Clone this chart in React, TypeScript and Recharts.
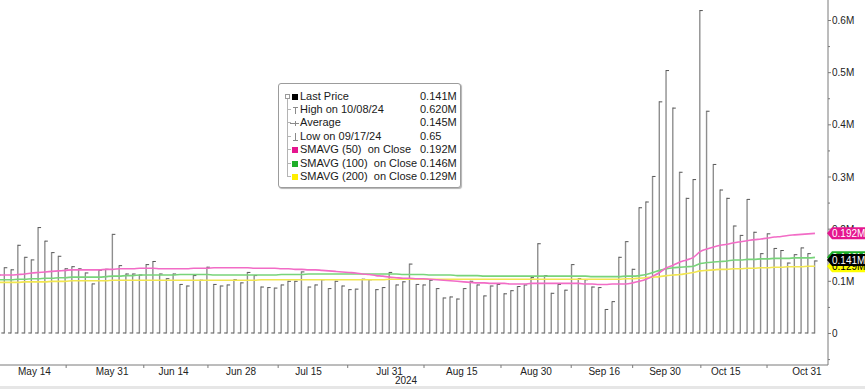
import React from 'react'
import { ComposedChart, Bar, Line, XAxis, YAxis, Label } from 'recharts'

// daily volume, in millions (first bar sits just off the left edge)
const volume = [
  0.113,
  0.127, 0.123, 0.170, 0.147, 0.142, 0.204, 0.178, 0.156, 0.149, 0.125,
  0.129, 0.125, 0.117, 0.096, 0.122, 0.124, 0.191, 0.131, 0.115, 0.115,
  0.113, 0.133, 0.139, 0.115, 0.106, 0.115, 0.095, 0.092, 0.112, 0.103,
  0.128, 0.095, 0.092, 0.094, 0.104, 0.098, 0.118, 0.112, 0.090, 0.089,
  0.088, 0.094, 0.101, 0.101, 0.119, 0.090, 0.094, 0.104, 0.087, 0.101,
  0.092, 0.085, 0.086, 0.105, 0.104, 0.085, 0.089, 0.118, 0.094, 0.100,
  0.134, 0.095, 0.094, 0.103, 0.087, 0.069, 0.071, 0.067, 0.087, 0.101,
  0.094, 0.073, 0.092, 0.095, 0.077, 0.083, 0.091, 0.094, 0.108, 0.173,
  0.112, 0.078, 0.095, 0.084, 0.133, 0.106, 0.104, 0.090, 0.089, 0.047,
  0.062, 0.147, 0.177, 0.124, 0.242, 0.253, 0.302, 0.445, 0.505, 0.433,
  0.310, 0.260, 0.296, 0.620, 0.427, 0.325, 0.276, 0.260, 0.207, 0.189,
  0.258, 0.195, 0.154, 0.192, 0.164, 0.160, 0.136, 0.152, 0.165, 0.154, 0.140,
]

const sma50 = [
  0.112,
  0.112, 0.112, 0.113, 0.114, 0.116, 0.117, 0.118, 0.119, 0.120, 0.121,
  0.122, 0.122, 0.122, 0.122, 0.122, 0.123, 0.123, 0.124, 0.124, 0.124,
  0.125, 0.125, 0.125, 0.124, 0.124, 0.124, 0.124, 0.124, 0.125, 0.125,
  0.125, 0.126, 0.126, 0.126, 0.126, 0.126, 0.126, 0.125, 0.125, 0.125,
  0.125, 0.124, 0.124, 0.123, 0.123, 0.122, 0.122, 0.121, 0.120, 0.119,
  0.118, 0.117, 0.116, 0.114, 0.113, 0.111, 0.110, 0.108, 0.107, 0.106,
  0.106, 0.105, 0.105, 0.104, 0.103, 0.102, 0.101, 0.100, 0.099, 0.098,
  0.097, 0.097, 0.096, 0.096, 0.096, 0.095, 0.095, 0.095, 0.096, 0.096,
  0.096, 0.096, 0.096, 0.096, 0.096, 0.096, 0.095, 0.095, 0.094, 0.094,
  0.095, 0.095, 0.095, 0.097, 0.100, 0.104, 0.110, 0.117, 0.126, 0.131,
  0.137, 0.141, 0.146, 0.157, 0.162, 0.166, 0.169, 0.171, 0.174, 0.176,
  0.178, 0.180, 0.181, 0.183, 0.185, 0.186, 0.188, 0.189, 0.190, 0.191, 0.192,
]

const sma100 = [
  0.103,
  0.103, 0.103, 0.104, 0.104, 0.105, 0.105, 0.106, 0.106, 0.107, 0.107,
  0.108, 0.108, 0.108, 0.108, 0.108, 0.109, 0.110, 0.110, 0.111, 0.111,
  0.112, 0.112, 0.112, 0.112, 0.112, 0.112, 0.113, 0.113, 0.113, 0.113,
  0.113, 0.112, 0.112, 0.112, 0.112, 0.112, 0.112, 0.112, 0.112, 0.112,
  0.112, 0.113, 0.113, 0.113, 0.113, 0.114, 0.114, 0.114, 0.114, 0.114,
  0.114, 0.114, 0.114, 0.114, 0.114, 0.114, 0.114, 0.114, 0.114, 0.113,
  0.113, 0.113, 0.113, 0.112, 0.112, 0.112, 0.112, 0.111, 0.111, 0.111,
  0.111, 0.110, 0.110, 0.110, 0.110, 0.110, 0.110, 0.110, 0.110, 0.110,
  0.110, 0.110, 0.110, 0.110, 0.110, 0.110, 0.110, 0.109, 0.109, 0.109,
  0.109, 0.109, 0.110, 0.110, 0.111, 0.113, 0.117, 0.121, 0.124, 0.126,
  0.127, 0.128, 0.129, 0.134, 0.136, 0.137, 0.138, 0.139, 0.141, 0.141,
  0.142, 0.142, 0.143, 0.143, 0.144, 0.144, 0.144, 0.145, 0.145, 0.145, 0.146,
]

const sma200 = [
  0.098,
  0.098, 0.098, 0.098, 0.099, 0.099, 0.099, 0.099, 0.100, 0.100, 0.100,
  0.101, 0.101, 0.101, 0.101, 0.101, 0.101, 0.102, 0.102, 0.102, 0.102,
  0.102, 0.102, 0.102, 0.102, 0.102, 0.102, 0.102, 0.102, 0.102, 0.102,
  0.102, 0.102, 0.102, 0.102, 0.102, 0.102, 0.102, 0.102, 0.103, 0.103,
  0.103, 0.103, 0.103, 0.103, 0.103, 0.103, 0.103, 0.103, 0.103, 0.103,
  0.103, 0.103, 0.103, 0.103, 0.103, 0.103, 0.103, 0.104, 0.104, 0.104,
  0.104, 0.104, 0.104, 0.104, 0.104, 0.104, 0.104, 0.104, 0.104, 0.104,
  0.104, 0.104, 0.104, 0.104, 0.104, 0.104, 0.104, 0.104, 0.104, 0.104,
  0.104, 0.104, 0.104, 0.104, 0.104, 0.104, 0.104, 0.104, 0.104, 0.104,
  0.104, 0.104, 0.105, 0.105, 0.106, 0.107, 0.108, 0.109, 0.111, 0.112,
  0.113, 0.115, 0.117, 0.120, 0.121, 0.122, 0.123, 0.123, 0.124, 0.124,
  0.125, 0.125, 0.126, 0.126, 0.127, 0.127, 0.128, 0.128, 0.128, 0.129, 0.129,
]

// date labels and where they fall along the bar index
const xLabels = ['May 14', 'May 31', 'Jun 14', 'Jun 28', 'Jul 15', 'Jul 31', 'Aug 15', 'Aug 30', 'Sep 16', 'Sep 30', 'Oct 15', 'Oct 31']
const xLabelPos = [5.4, 16.9, 26, 36, 46, 58, 68.7, 79.7, 89.8, 98.8, 107.8, 119.8]
const xSepPos = [10.1, 21.6, 31.1, 41.5, 51.8, 63.1, 74.5, 84.9, 94, 104.1, 113.9]

const yTicks = [-0.05, 0, 0.05, 0.1, 0.15, 0.2, 0.25, 0.3, 0.35, 0.4, 0.45, 0.5, 0.55, 0.6]

// last values shown as tags on the right axis (drawn in this order)
const lastValues = [0.146, 0.129, 0.141, 0.192]
const tagFill = ['#1fae2a', '#ffff00', '#000000', '#e5168f']
const tagInk = ['#ffffff', '#000000', '#ffffff', '#ffffff']

const legendLabels = ['Last Price', 'High on 10/08/24', 'Average', 'Low on 09/17/24', 'SMAVG (50)  on Close', 'SMAVG (100)  on Close', 'SMAVG (200)  on Close']
const legendValues = ['0.141M', '0.620M', '0.145M', '0.65', '0.192M', '0.146M', '0.129M']

const FONT = '"Liberation Sans", Arial, sans-serif'
const AXIS = '#7a7a7a'

const data = volume.map((v, i) => ({ i, v, s50: sma50[i], s100: sma100[i], s200: sma200[i] }))

function VolBar(props: any) {
  const { x, y, width, height } = props
  if (x == null || y == null || height == null) return null
  const cx = x + width / 2
  const bot = y + height
  return (
    <g>
      <line x1={cx} x2={cx} y1={y} y2={bot} stroke="#8e8e8e" strokeWidth={1.4} />
      <line x1={cx} x2={cx + 3} y1={y + 0.5} y2={y + 0.5} stroke="#555" strokeWidth={1} />
      <line x1={cx - 3} x2={cx} y1={bot - 0.5} y2={bot - 0.5} stroke="#555" strokeWidth={1} />
    </g>
  )
}

function XTick(props: any) {
  const { x, y, payload } = props
  const k = xLabelPos.indexOf(payload.value)
  if (k >= 0) {
    return (
      <text x={x} y={y + 10} textAnchor="middle" fontSize={10} fontFamily={FONT} fill="#222">
        {xLabels[k]}
      </text>
    )
  }
  return <line x1={x} x2={x} y1={y} y2={y + 3} stroke={AXIS} />
}

function YTick(props: any) {
  const { x, y, payload } = props
  const v = payload.value
  const t = lastValues.indexOf(v)
  if (t >= 0) {
    const h = 6
    return (
      <g>
        <path
          d={`M${x - 1},${y} L${x + 4},${y - h} L${x + 37},${y - h} L${x + 37},${y + h} L${x + 4},${y + h} Z`}
          fill={tagFill[t]}
        />
        <text x={x + 4} y={y + 3.7} fontSize={10} fontFamily={FONT} fill={tagInk[t]}>
          {v.toFixed(3)}M
        </text>
      </g>
    )
  }
  const major = Math.abs(Math.round(v * 10) - v * 10) < 1e-6 && v >= 0
  return (
    <g>
      <line x1={x} x2={x + (major ? 3 : 2)} y1={y} y2={y} stroke={AXIS} />
      {major && (
        <text x={x + 4} y={y + 3.6} fontSize={10} fontFamily={FONT} fill="#222">
          {v === 0 ? '0' : `${v.toFixed(1)}M`}
        </text>
      )}
    </g>
  )
}

function LegendIcon({ k }: { k: number }) {
  const sq = ['#000000', '', '', '', '#e5168f', '#1fae2a', '#ffee00']
  if (sq[k]) return <div style={{ position: 'absolute', left: 13, top: 4, width: 6, height: 6, background: sq[k] }} />
  const g = '#8a8a8a'
  return (
    <svg style={{ position: 'absolute', left: 11, top: 1 }} width={10} height={12}>
      {k === 1 && <><line x1={3} x2={8} y1={3.5} y2={3.5} stroke={g} /><line x1={5.5} x2={5.5} y1={3.5} y2={10} stroke={g} /></>}
      {k === 2 && <><line x1={0} x2={9} y1={6.5} y2={6.5} stroke={g} /><line x1={5.5} x2={5.5} y1={4} y2={9} stroke={g} /></>}
      {k === 3 && <><line x1={5.5} x2={5.5} y1={2} y2={9.5} stroke={g} /><line x1={3} x2={8} y1={9.5} y2={9.5} stroke={g} /></>}
    </svg>
  )
}

function LegendBox() {
  const rowH = 13.45
  return (
    <div
      style={{
        position: 'absolute', left: 278, top: 83, width: 181, height: 103,
        border: '1px solid #9c9c9c', borderRadius: 3, background: '#fff',
        boxShadow: '1px 1px 1px rgba(0,0,0,0.3)', fontFamily: FONT, fontSize: 11, color: '#1a1a1a',
      }}
    >
      <div style={{ position: 'absolute', left: 8, top: 12, width: 1, height: rowH * 6, background: '#b4b4b4' }} />
      <div style={{ position: 'absolute', left: 6, top: 10, width: 3, height: 3, border: '1px solid #9a9a9a', background: '#fff' }} />
      {legendLabels.map((label, k) => (
        <div key={label} style={{ position: 'absolute', left: 0, top: 12 - 6.5 + k * rowH, width: 181, height: 13, lineHeight: '13px' }}>
          {k > 0 && <div style={{ position: 'absolute', left: 8, top: 6, width: 4, height: 1, background: '#b4b4b4' }} />}
          <LegendIcon k={k} />
          <span style={{ position: 'absolute', left: 21, whiteSpace: 'pre' }}>{label}</span>
          <span style={{ position: 'absolute', left: 141 }}>{legendValues[k]}</span>
        </div>
      ))}
    </div>
  )
}

export default function App() {
  return (
    <div style={{ position: 'absolute', left: 0, top: 0, width: 865, height: 389, background: '#fff', overflow: 'hidden' }}>
      <ComposedChart width={865} height={386} data={data} margin={{ top: 0, right: 0, bottom: 0, left: 0 }}>
        <XAxis
          dataKey="i"
          type="number"
          domain={[0.304, 122.93]}
          allowDataOverflow
          ticks={[...xLabelPos, ...xSepPos]}
          interval={0}
          tick={<XTick />}
          tickLine={false}
          tickSize={0}
          tickMargin={0}
          height={21}
          axisLine={{ stroke: AXIS }}
        >
          <Label value="2024" position="insideBottom" offset={2} dx={-8} fontSize={10} fontFamily={FONT} fill="#222" />
        </XAxis>
        <YAxis
          orientation="right"
          width={37}
          domain={[-0.0604, 0.6393]}
          allowDataOverflow
          ticks={[...yTicks, ...lastValues]}
          interval={0}
          tick={<YTick />}
          tickLine={false}
          tickSize={0}
          tickMargin={0}
          axisLine={{ stroke: AXIS }}
        />
        <Bar dataKey="v" barSize={4} shape={<VolBar />} isAnimationActive={false} />
        <Line dataKey="s200" type="monotone" stroke="#f2e650" strokeWidth={1.6} dot={false} isAnimationActive={false} />
        <Line dataKey="s100" type="monotone" stroke="#78d47a" strokeWidth={1.6} dot={false} isAnimationActive={false} />
        <Line dataKey="s50" type="monotone" stroke="#f26cc6" strokeWidth={1.6} dot={false} isAnimationActive={false} />
      </ComposedChart>
      <LegendBox />
      <div style={{ position: 'absolute', left: 0, top: 386, width: 865, height: 3, background: '#e6e6e6' }} />
    </div>
  )
}
